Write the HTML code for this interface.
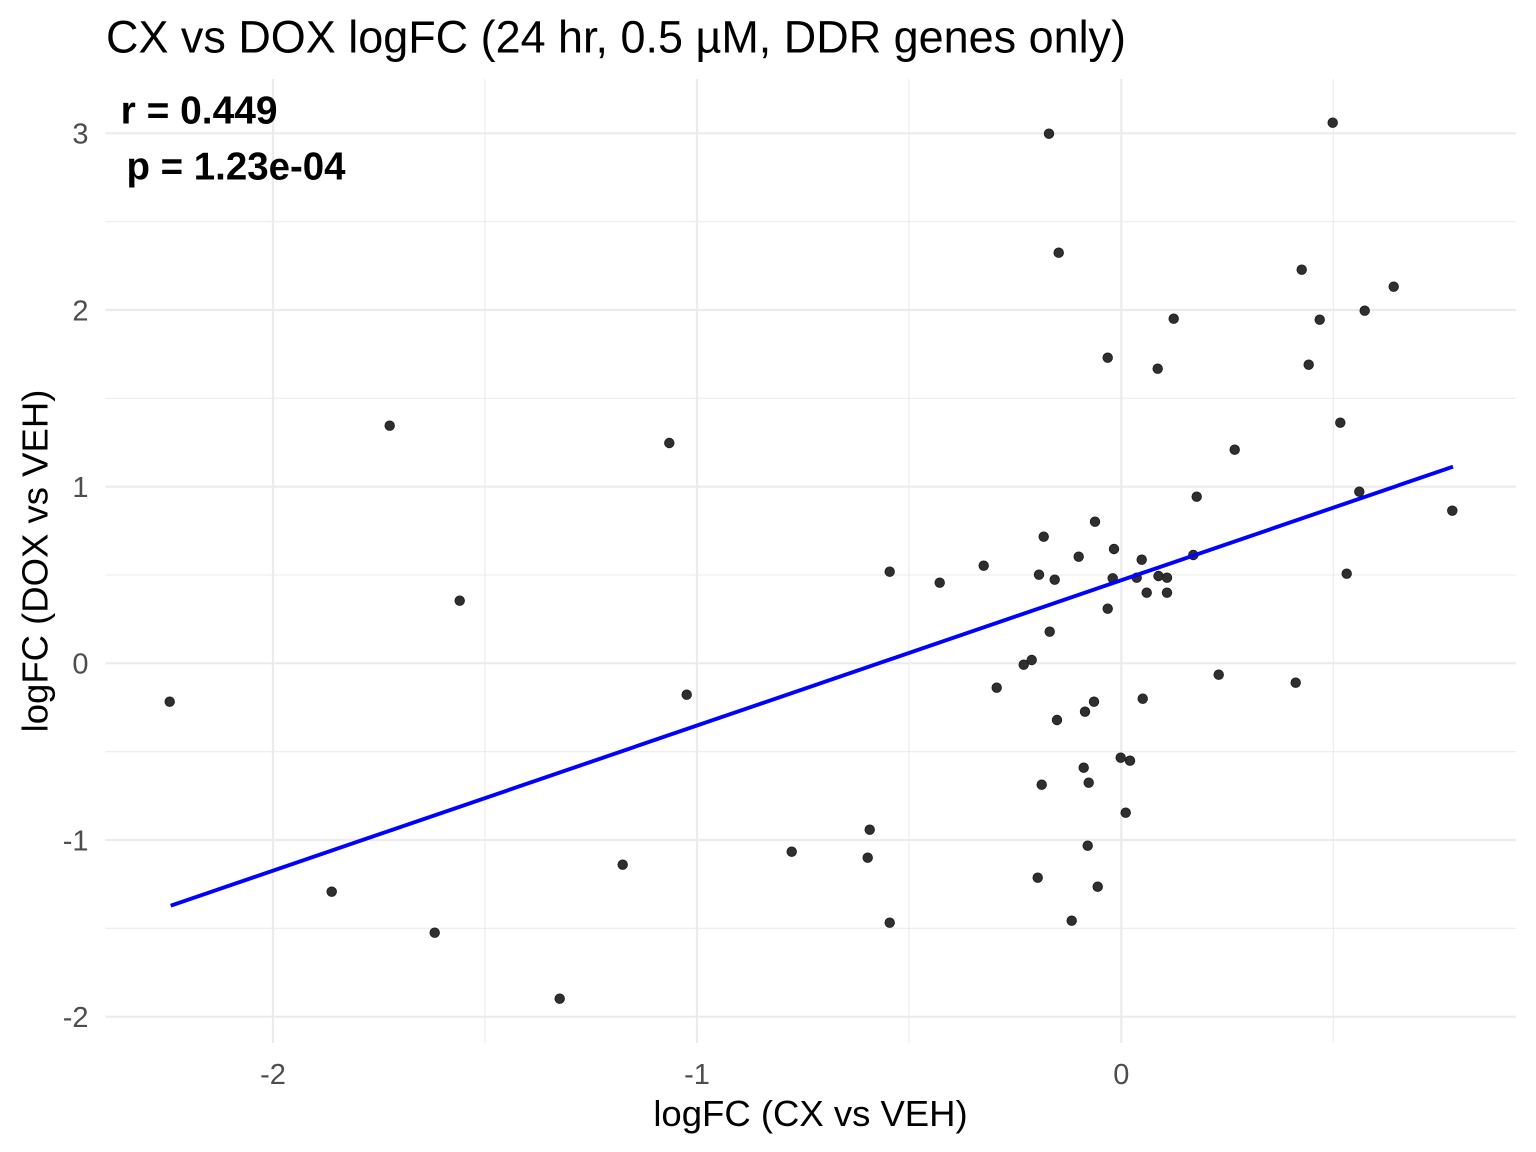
<!DOCTYPE html>
<html>
<head>
<meta charset="utf-8">
<style>
  html, body { margin: 0; padding: 0; background: #ffffff; }
  svg { display: block; }
  text { font-family: "Liberation Sans", Arial, sans-serif; }
</style>
</head>
<body>
<svg xmlns="http://www.w3.org/2000/svg" width="1536" height="1152" viewBox="0 0 1536 1152">
  <rect x="0" y="0" width="1536" height="1152" fill="#ffffff"/>

  <g stroke="#ebebeb" stroke-width="1.1" fill="none">
    <line x1="485" y1="79" x2="485" y2="1043"/>
    <line x1="909" y1="79" x2="909" y2="1043"/>
    <line x1="1333.3" y1="79" x2="1333.3" y2="1043"/>
    <line x1="105.5" y1="221.7" x2="1516" y2="221.7"/>
    <line x1="105.5" y1="398.3" x2="1516" y2="398.3"/>
    <line x1="105.5" y1="575" x2="1516" y2="575"/>
    <line x1="105.5" y1="751.7" x2="1516" y2="751.7"/>
    <line x1="105.5" y1="928.3" x2="1516" y2="928.3"/>
  </g>
  <g stroke="#ebebeb" stroke-width="2.2" fill="none">
    <line x1="273" y1="79" x2="273" y2="1043"/>
    <line x1="697" y1="79" x2="697" y2="1043"/>
    <line x1="1121.3" y1="79" x2="1121.3" y2="1043"/>
    <line x1="105.5" y1="133.3" x2="1516" y2="133.3"/>
    <line x1="105.5" y1="310" x2="1516" y2="310"/>
    <line x1="105.5" y1="486.7" x2="1516" y2="486.7"/>
    <line x1="105.5" y1="663.3" x2="1516" y2="663.3"/>
    <line x1="105.5" y1="840" x2="1516" y2="840"/>
    <line x1="105.5" y1="1016.7" x2="1516" y2="1016.7"/>
  </g>

  <g fill="#2f2f2f" stroke="#1a1a1a" stroke-width="0.8">
    <circle cx="169.7" cy="701.7" r="4.8"/>
    <circle cx="331.7" cy="891.7" r="4.8"/>
    <circle cx="389.7" cy="425.7" r="4.8"/>
    <circle cx="434.7" cy="932.7" r="4.8"/>
    <circle cx="459.7" cy="600.7" r="4.8"/>
    <circle cx="559.7" cy="998.7" r="4.8"/>
    <circle cx="622.7" cy="864.7" r="4.8"/>
    <circle cx="669.3" cy="443" r="4.8"/>
    <circle cx="686.7" cy="694.7" r="4.8"/>
    <circle cx="791.7" cy="851.7" r="4.8"/>
    <circle cx="867.7" cy="857.7" r="4.8"/>
    <circle cx="869.7" cy="829.7" r="4.8"/>
    <circle cx="889.7" cy="922.7" r="4.8"/>
    <circle cx="889.7" cy="571.7" r="4.8"/>
    <circle cx="939.7" cy="582.7" r="4.8"/>
    <circle cx="983.7" cy="565.7" r="4.8"/>
    <circle cx="996.7" cy="687.7" r="4.8"/>
    <circle cx="1023.7" cy="664.7" r="4.8"/>
    <circle cx="1031.7" cy="660" r="4.8"/>
    <circle cx="1037.7" cy="877.7" r="4.8"/>
    <circle cx="1039" cy="574.7" r="4.8"/>
    <circle cx="1041.7" cy="784.7" r="4.8"/>
    <circle cx="1043.7" cy="536.7" r="4.8"/>
    <circle cx="1049" cy="133.7" r="4.8"/>
    <circle cx="1049.7" cy="631.7" r="4.8"/>
    <circle cx="1054.7" cy="579.7" r="4.8"/>
    <circle cx="1057" cy="720" r="4.8"/>
    <circle cx="1058.7" cy="252.7" r="4.8"/>
    <circle cx="1071.7" cy="920.7" r="4.8"/>
    <circle cx="1078.7" cy="556.7" r="4.8"/>
    <circle cx="1083.7" cy="767.7" r="4.8"/>
    <circle cx="1085" cy="711.7" r="4.8"/>
    <circle cx="1087.7" cy="845.7" r="4.8"/>
    <circle cx="1088.7" cy="782.7" r="4.8"/>
    <circle cx="1094" cy="701.7" r="4.8"/>
    <circle cx="1095" cy="521.7" r="4.8"/>
    <circle cx="1097.7" cy="886.7" r="4.8"/>
    <circle cx="1107.7" cy="357.7" r="4.8"/>
    <circle cx="1107.7" cy="608.7" r="4.8"/>
    <circle cx="1112.7" cy="578.3" r="4.8"/>
    <circle cx="1114" cy="549" r="4.8"/>
    <circle cx="1120.7" cy="757.7" r="4.8"/>
    <circle cx="1125.7" cy="812.7" r="4.8"/>
    <circle cx="1130" cy="760.7" r="4.8"/>
    <circle cx="1136.7" cy="577.7" r="4.8"/>
    <circle cx="1141.7" cy="559.7" r="4.8"/>
    <circle cx="1142.7" cy="698.7" r="4.8"/>
    <circle cx="1146.7" cy="592.7" r="4.8"/>
    <circle cx="1157.7" cy="368.7" r="4.8"/>
    <circle cx="1158.5" cy="576" r="4.8"/>
    <circle cx="1167" cy="577.7" r="4.8"/>
    <circle cx="1167" cy="592.7" r="4.8"/>
    <circle cx="1173.7" cy="318.7" r="4.8"/>
    <circle cx="1193.3" cy="555" r="4.8"/>
    <circle cx="1196.7" cy="496.7" r="4.8"/>
    <circle cx="1218.7" cy="674.7" r="4.8"/>
    <circle cx="1234.7" cy="449.7" r="4.8"/>
    <circle cx="1295.7" cy="682.7" r="4.8"/>
    <circle cx="1301.7" cy="269.7" r="4.8"/>
    <circle cx="1308.7" cy="364.7" r="4.8"/>
    <circle cx="1319.7" cy="319.7" r="4.8"/>
    <circle cx="1332.7" cy="122.7" r="4.8"/>
    <circle cx="1340.3" cy="422.7" r="4.8"/>
    <circle cx="1346.7" cy="573.7" r="4.8"/>
    <circle cx="1359.3" cy="491.7" r="4.8"/>
    <circle cx="1364.7" cy="310.7" r="4.8"/>
    <circle cx="1393.7" cy="286.7" r="4.8"/>
    <circle cx="1452.3" cy="510.7" r="4.8"/>
  </g>

  <line x1="170.7" y1="905.7" x2="1453" y2="466.7" stroke="#0000ff" stroke-width="3.9"/>

  <text x="120.6" y="123.3" font-size="38.5" font-weight="bold" fill="#000000" textLength="157" lengthAdjust="spacingAndGlyphs">r = 0.449</text>
  <text x="126.5" y="179.3" font-size="38.5" font-weight="bold" fill="#000000" textLength="219" lengthAdjust="spacingAndGlyphs">p = 1.23e-04</text>

  <g font-size="29" fill="#4d4d4d" text-anchor="end">
    <text x="88.5" y="143.7">3</text>
    <text x="88.5" y="320.4">2</text>
    <text x="88.5" y="497.1">1</text>
    <text x="88.5" y="673.7">0</text>
    <text x="88.5" y="850.4">-1</text>
    <text x="88.5" y="1027.1">-2</text>
  </g>

  <g font-size="29" fill="#4d4d4d" text-anchor="middle">
    <text x="273" y="1084">-2</text>
    <text x="697" y="1084">-1</text>
    <text x="1121.3" y="1084">0</text>
  </g>

  <text x="810.5" y="1126" font-size="36.5" fill="#000000" text-anchor="middle">logFC (CX vs VEH)</text>
  <text transform="translate(47.5,561) rotate(-90)" font-size="36.5" fill="#000000" text-anchor="middle">logFC (DOX vs VEH)</text>

  <text x="106" y="52.3" font-size="45" fill="#000000" textLength="1020" lengthAdjust="spacingAndGlyphs">CX vs DOX logFC (24 hr, 0.5 µM, DDR genes only)</text>
</svg>
</body>
</html>
